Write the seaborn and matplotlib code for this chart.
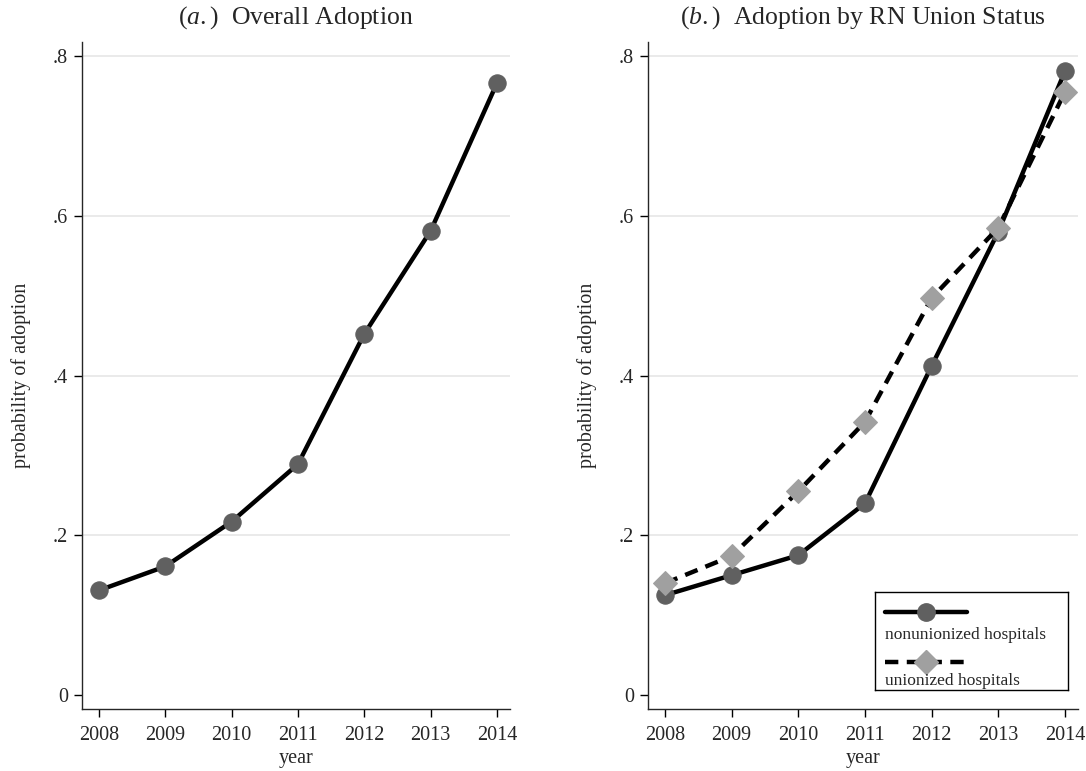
import numpy as np
import pandas as pd
import matplotlib
matplotlib.use("Agg")
import matplotlib.pyplot as plt
import seaborn as sns

# data
years = [2008, 2009, 2010, 2011, 2012, 2013, 2014]
overall = [0.131, 0.161, 0.217, 0.289, 0.452, 0.581, 0.766]
nonunion = [0.125, 0.150, 0.175, 0.240, 0.412, 0.580, 0.781]
union = [0.140, 0.174, 0.255, 0.342, 0.497, 0.585, 0.755]
y_ticks = [0, 0.2, 0.4, 0.6, 0.8]
y_ticklabels = ["0", ".2", ".4", ".6", ".8"]
legend_labels = ["nonunionized hospitals", "unionized hospitals"]

sns.set_style("ticks")
plt.rcParams["font.family"] = ["Liberation Serif", "DejaVu Serif"]
plt.rcParams["mathtext.fontset"] = "custom"
plt.rcParams["mathtext.it"] = "Liberation Serif:italic"
plt.rcParams["mathtext.rm"] = "Liberation Serif"

dark = "#606060"
light = "#a0a0a0"
dash = (0, (3, 1.9))

fig = plt.figure(figsize=(10.86, 7.71), dpi=100)
ax1 = fig.add_axes([0.0755, 0.0804, 0.394, 0.8651])
ax2 = fig.add_axes([0.5967, 0.0804, 0.3959, 0.8651])

df = pd.DataFrame({"year": years, "overall": overall,
                   "nonunion": nonunion, "union": union})

sns.lineplot(data=df, x="year", y="overall", ax=ax1, color="black", lw=3.2,
             marker="o", markersize=12.5, markerfacecolor=dark,
             markeredgecolor=dark, zorder=3)

sns.lineplot(data=df, x="year", y="nonunion", ax=ax2, color="black", lw=3.2,
             marker="o", markersize=12.5, markerfacecolor=dark,
             markeredgecolor=dark, zorder=3)
sns.lineplot(data=df, x="year", y="union", ax=ax2, color="black", lw=3.2,
             linestyle=dash, marker="D", markersize=12,
             markerfacecolor=light, markeredgecolor=light, zorder=4)

titles = [r"($\mathit{a.}$)  Overall Adoption",
          r"($\mathit{b.}$)  Adoption by RN Union Status"]
for ax, title in zip([ax1, ax2], titles):
    ax.set_xlim(2007.745, 2014.195)
    ax.set_ylim(-0.0175, 0.8175)
    for yv in y_ticks[1:]:
        ax.axhline(yv, color="#e6e6e6", lw=1.2, zorder=0)
    ax.set_xticks(years)
    ax.set_xticklabels([str(y) for y in years], fontsize=14.5)
    ax.set_yticks(y_ticks)
    ax.set_yticklabels(y_ticklabels, fontsize=14.5)
    ax.tick_params(axis="both", length=6, width=1, color="black", pad=4)
    ax.tick_params(axis="x", pad=6)
    ax.set_xlabel("year", fontsize=14.5, labelpad=3)
    ax.set_ylabel("probability of adoption", fontsize=14.5, labelpad=16)
    ax.set_title(title, fontsize=18.5, pad=13)
    sns.despine(ax=ax)
    for s in ["left", "bottom"]:
        ax.spines[s].set_linewidth(1)

# legend box drawn as a small inset (handle above label, Stata style)
lax = ax2.inset_axes([0.528, 0.0285, 0.449, 0.147])
lax.set_xlim(0, 1)
lax.set_ylim(0, 1)
lax.set_xticks([])
lax.set_yticks([])
for s in lax.spines.values():
    s.set_linewidth(1)
    s.set_color("black")
lax.plot([0.052, 0.264, 0.477], [0.80, 0.80, 0.80], color="black", lw=3.2,
         marker="o", markevery=[1], markersize=12.5, markerfacecolor=dark,
         markeredgecolor=dark)
lax.text(0.052, 0.56, legend_labels[0], fontsize=12.5, va="center", ha="left")
lax.plot([0.052, 0.264, 0.477], [0.29, 0.29, 0.29], color="black", lw=3.2,
         linestyle=dash, marker="D", markevery=[1], markersize=12,
         markerfacecolor=light, markeredgecolor=light)
lax.text(0.052, 0.09, legend_labels[1], fontsize=12.5, va="center", ha="left")

fig.savefig("out.png", dpi=100)
